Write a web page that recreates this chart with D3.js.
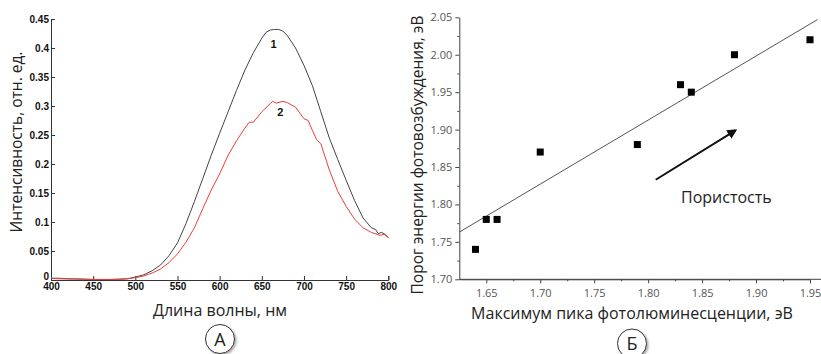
<!DOCTYPE html>
<html><head><meta charset="utf-8">
<script src="https://cdn.jsdelivr.net/npm/d3@7"></script>
<style>body{margin:0;background:#fff}svg{display:block}</style>
</head><body>
<svg id="c" width="821" height="354"></svg>
<script>
// ---- Panel A data ----
const wavelength1 = [400,410,420,430,440,450,460,470,480,490,500,510,520,530,540,550,560,570,580,590,600,610,620,630,640,650,655,660,665,670,675,680,690,700,710,720,730,740,750,760,770,780,785,788,792,796,800];
const intensity1  = [0.003,0.003,0.002,0.002,0.0015,0.001,0.001,0.001,0.0015,0.002,0.005,0.009,0.016,0.026,0.042,0.064,0.097,0.135,0.175,0.215,0.253,0.290,0.327,0.362,0.392,0.417,0.427,0.431,0.432,0.432,0.429,0.422,0.400,0.370,0.335,0.290,0.245,0.208,0.172,0.137,0.107,0.090,0.087,0.080,0.082,0.079,0.073];
const wavelength2 = [400,410,420,430,440,450,460,470,480,490,500,510,520,530,540,550,560,570,580,590,600,610,620,630,635,640,650,660,663,667,675,680,690,700,705,710,715,720,730,740,750,760,770,780,790,795,800];
const intensity2  = [0.003,0.002,0.002,0.0015,0.001,0.001,0.0008,0.0008,0.001,0.002,0.004,0.007,0.012,0.019,0.030,0.045,0.065,0.090,0.123,0.155,0.183,0.215,0.240,0.262,0.272,0.272,0.290,0.304,0.308,0.305,0.308,0.306,0.298,0.278,0.275,0.258,0.242,0.235,0.190,0.153,0.127,0.105,0.090,0.082,0.077,0.079,0.073];
const xTicksA = [400,450,500,550,600,650,700,750,800];
const yTicksA = [0,0.05,0.1,0.15,0.2,0.25,0.3,0.35,0.4,0.45];
const yTickLabelsA = ["0","0.05","0.1","0.15","0.2","0.25","0.3","0.35","0.4","0.45"];
const curveLabels = ["1","2"];
const curveLabelPos = [[664,0.40],[672,0.282]];

// ---- Panel B data ----
const peakMax   = [1.64,1.65,1.66,1.70,1.79,1.83,1.84,1.88,1.95];
const threshold = [1.74,1.78,1.78,1.87,1.88,1.96,1.95,2.00,2.02];
const fitX = [1.625,1.957];
const fitY = [1.763,2.047];
const arrowX = [1.807,1.881];
const arrowY = [1.833,1.899];
const xTicksB = [1.65,1.70,1.75,1.80,1.85,1.90,1.95];
const xMinorB = [1.675,1.725,1.775,1.825,1.875,1.925];
const yTicksB = [1.70,1.75,1.80,1.85,1.90,1.95,2.00,2.05];
const yMinorB = [1.725,1.775,1.825,1.875,1.925,1.975,2.025];

const svg = d3.select("#c");
const defs = svg.append("defs");
const f = defs.append("filter").attr("id","sh").attr("x","-30%").attr("y","-30%").attr("width","160%").attr("height","160%");
f.append("feDropShadow").attr("dx",1.5).attr("dy",1.5).attr("stdDeviation",1.2).attr("flood-color","#000").attr("flood-opacity",0.35);
defs.append("marker").attr("id","ah").attr("viewBox","0 0 10 10").attr("refX",8).attr("refY",5)
  .attr("markerWidth",5).attr("markerHeight",5).attr("orient","auto")
  .append("path").attr("d","M0,0 L10,5 L0,10 Z").attr("fill","#111");

// ===== Panel A =====
const xA = d3.scaleLinear().domain([400,800]).range([51,388.3]);
const yA = d3.scaleLinear().domain([0,0.45]).range([280,19]);
const gA = svg.append("g");
const axAx = gA.append("g").attr("transform","translate(0,280)")
  .call(d3.axisBottom(xA).tickValues(xTicksA).tickSize(-4).tickPadding(4).tickFormat(d3.format("d")));
const axAy = gA.append("g").attr("transform","translate(51,0)")
  .call(d3.axisLeft(yA).tickValues(yTicksA).tickSize(-4).tickPadding(3).tickFormat((d,i)=>yTickLabelsA[i]));
[axAx,axAy].forEach(a=>{
  a.select(".domain").attr("stroke","#333").attr("stroke-width",1);
  a.selectAll(".tick line").attr("stroke","#333");
  a.selectAll("text").attr("font-family","Liberation Sans, Arial, sans-serif").attr("font-weight","bold").attr("font-size",10).attr("fill","#111");
});
axAx.selectAll("text").attr("dy","0.6em");
axAy.selectAll("text").attr("x",-2);
// lift the "0" label slightly so it sits just above "400"
axAy.selectAll(".tick").filter(d=>d===0).select("text").attr("dy","-0.05em");

const lineA = d3.line().x(d=>xA(d[0])).y(d=>yA(d[1]));
gA.append("path").datum(wavelength1.map((w,i)=>[w,intensity1[i]])).attr("d",lineA)
  .attr("fill","none").attr("stroke","#444").attr("stroke-width",1);
gA.append("path").datum(wavelength2.map((w,i)=>[w,intensity2[i]])).attr("d",lineA)
  .attr("fill","none").attr("stroke","#f03c3c").attr("stroke-width",1);
gA.selectAll(".cl").data(curveLabels).enter().append("text")
  .attr("x",(d,i)=>xA(curveLabelPos[i][0])).attr("y",(d,i)=>yA(curveLabelPos[i][1]))
  .attr("text-anchor","middle").attr("font-family","Liberation Sans, Arial, sans-serif")
  .attr("font-weight","bold").attr("font-size",11).attr("fill","#111").text(d=>d);

gA.append("text").attr("x",220).attr("y",316).attr("text-anchor","middle")
  .attr("font-family","Open Sans, sans-serif").attr("font-size",16).attr("fill","#222").text("Длина волны, нм");
gA.append("text").attr("transform","translate(22,142) rotate(-90)").attr("text-anchor","middle")
  .attr("font-family","Open Sans, sans-serif").attr("font-size",15.5).attr("fill","#222").text("Интенсивность, отн. ед.");

// ===== Panel B =====
const xB = d3.scaleLinear().domain([1.625,1.95]).range([459.3,810]);
const yB = d3.scaleLinear().domain([1.70,2.05]).range([279.3,17.3]);
const gB = svg.append("g");
const fmt2 = d3.format(".2f");
const axBx = gB.append("g").attr("transform","translate(0,279.3)")
  .call(d3.axisBottom(xB).tickValues(xTicksB).tickSize(4).tickPadding(6).tickFormat(fmt2).tickSizeOuter(0));
gB.append("line").attr("x1",xB(1.625)).attr("x2",821).attr("y1",279.3).attr("y2",279.3).attr("stroke","#444");
const axBy = gB.append("g").attr("transform","translate(459.3,0)")
  .call(d3.axisLeft(yB).tickValues(yTicksB).tickSize(4).tickPadding(3).tickFormat(fmt2).tickSizeOuter(0));
gB.append("g").attr("transform","translate(0,279.3)").call(d3.axisBottom(xB).tickValues(xMinorB).tickSize(2).tickFormat("")).select(".domain").remove();
gB.append("g").attr("transform","translate(459.3,0)").call(d3.axisLeft(yB).tickValues(yMinorB).tickSize(2).tickFormat("")).select(".domain").remove();
gB.selectAll(".domain").attr("stroke","#444");
gB.selectAll(".tick line").attr("stroke","#444");
gB.selectAll(".tick text").attr("font-family","Open Sans, sans-serif").attr("font-size",11).attr("fill","#555");

gB.append("line").attr("x1",xB(fitX[0])).attr("y1",yB(fitY[0])).attr("x2",xB(fitX[1])).attr("y2",yB(fitY[1]))
  .attr("stroke","#555").attr("stroke-width",1);
gB.selectAll(".pt").data(peakMax).enter().append("rect")
  .attr("x",(d)=>xB(d)-3.5).attr("y",(d,i)=>yB(threshold[i])-3.5).attr("width",7).attr("height",7).attr("fill","#000");
gB.append("line").attr("x1",xB(arrowX[0])).attr("y1",yB(arrowY[0])).attr("x2",xB(arrowX[1])).attr("y2",yB(arrowY[1]))
  .attr("stroke","#111").attr("stroke-width",2).attr("marker-end","url(#ah)");
gB.append("text").attr("x",681).attr("y",203).attr("font-family","Open Sans, sans-serif").attr("font-size",16).attr("fill","#222").text("Пористость");

gB.append("text").attr("x",632).attr("y",319).attr("text-anchor","middle")
  .attr("font-family","Open Sans, sans-serif").attr("font-size",16).attr("fill","#222").text("Максимум пика фотолюминесценции, эВ");
gB.append("text").attr("transform","translate(423,155) rotate(-90)").attr("text-anchor","middle")
  .attr("font-family","Open Sans, sans-serif").attr("font-size",15.5).attr("fill","#222").text("Порог энергии фотовозбуждения, эВ");

// circled letters
const circ = [["А",220,339],["Б",632,343.5]];
circ.forEach(c=>{
  svg.append("circle").attr("cx",c[1]).attr("cy",c[2]).attr("r",14.5).attr("fill","#fff").attr("stroke","#333").attr("stroke-width",1).attr("filter","url(#sh)");
  svg.append("text").attr("x",c[1]).attr("y",c[2]+6.5).attr("text-anchor","middle")
    .attr("font-family","Open Sans, sans-serif").attr("font-size",18).attr("fill","#222").text(c[0]);
});
</script>
</body></html>
